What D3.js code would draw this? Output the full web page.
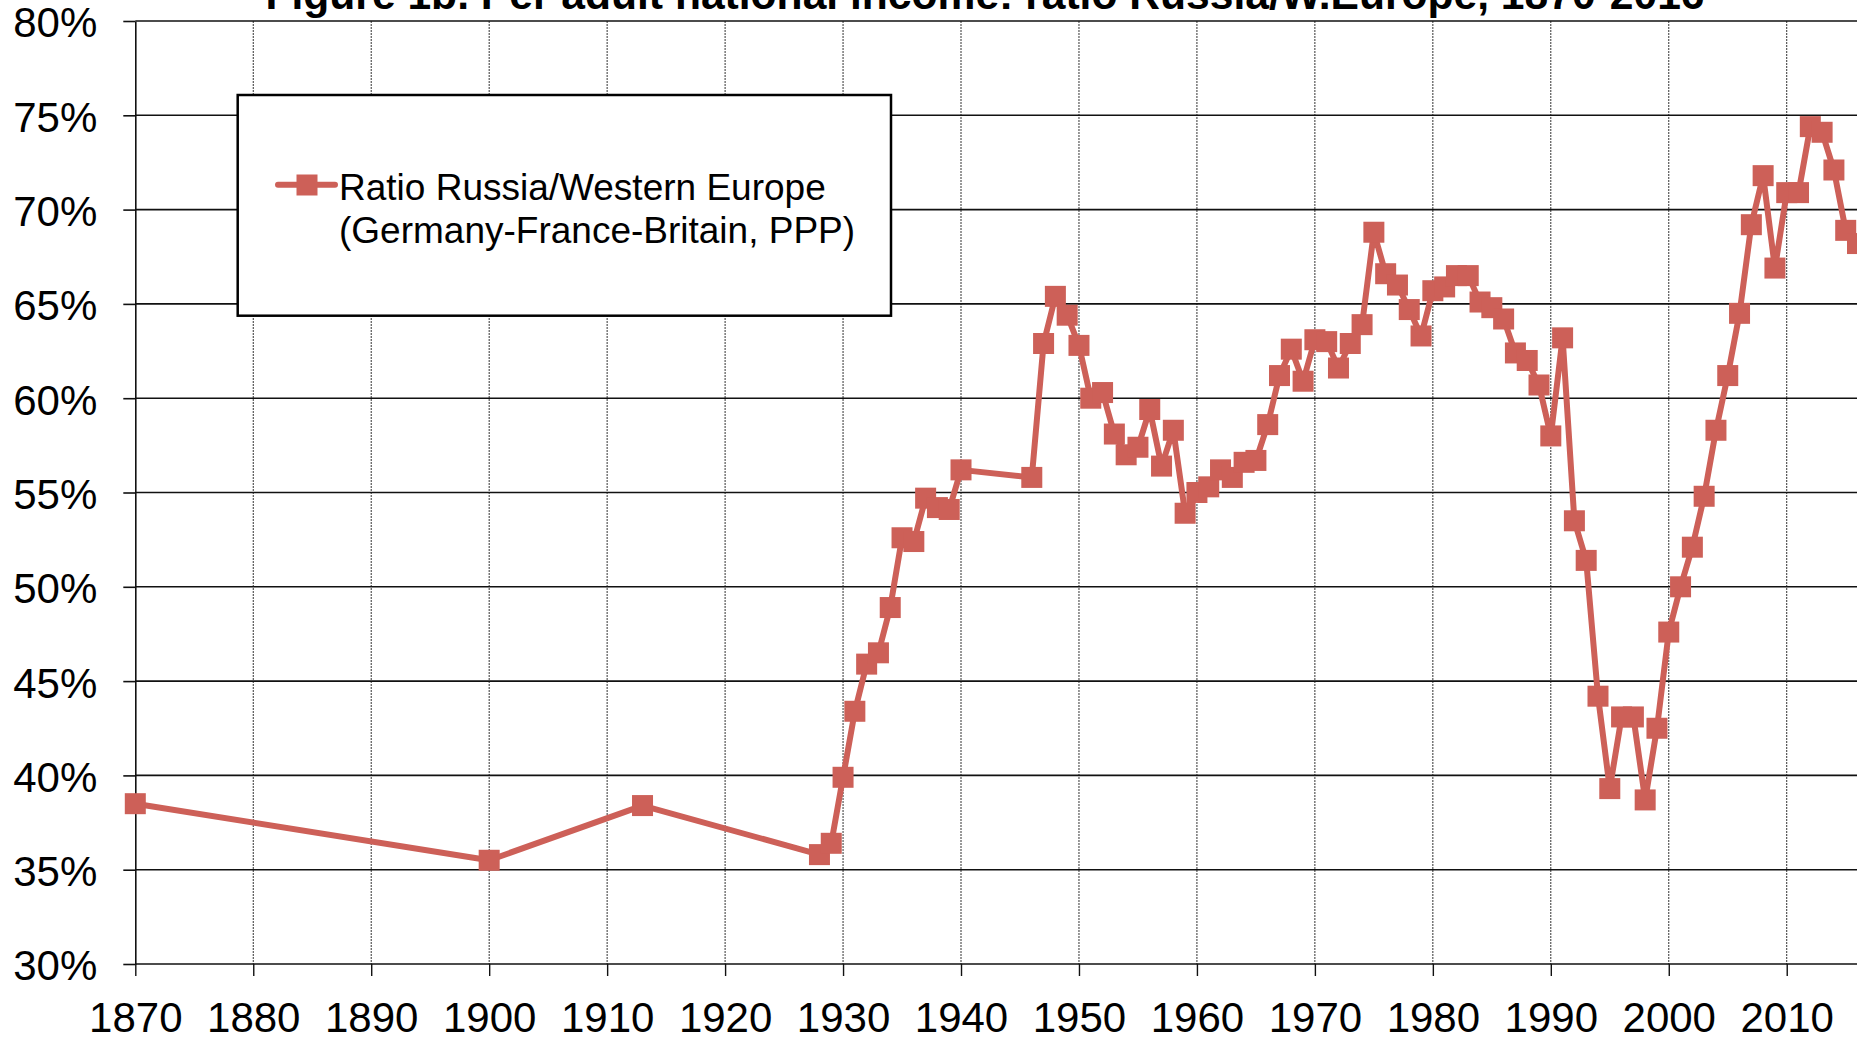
<!DOCTYPE html>
<html>
<head>
<meta charset="utf-8">
<script src="https://cdn.jsdelivr.net/npm/d3@7"></script>
<style>
  html, body { margin: 0; padding: 0; background: #fff; overflow: hidden; }
  svg { display: block; font-family: "Liberation Sans", Arial, sans-serif; }
</style>
</head>
<body>
<div id="chart"></div>
<script>
// data
const years = [1870, 1900, 1913, 1928, 1929, 1930, 1931, 1932, 1933, 1934, 1935, 1936, 1937, 1938, 1939, 1940,
  1946, 1947, 1948, 1949, 1950, 1951, 1952, 1953, 1954, 1955, 1956, 1957, 1958, 1959,
  1960, 1961, 1962, 1963, 1964, 1965, 1966, 1967, 1968, 1969,
  1970, 1971, 1972, 1973, 1974, 1975, 1976, 1977, 1978, 1979,
  1980, 1981, 1982, 1983, 1984, 1985, 1986, 1987, 1988, 1989,
  1990, 1991, 1992, 1993, 1994, 1995, 1996, 1997, 1998, 1999,
  2000, 2001, 2002, 2003, 2004, 2005, 2006, 2007, 2008, 2009,
  2010, 2011, 2012, 2013, 2014, 2015, 2016];
const ratio = [38.5, 35.5, 38.4, 35.8, 36.4, 39.9, 43.4, 45.9, 46.5, 48.9, 52.6, 52.4, 54.7, 54.2, 54.1, 56.2,
  55.8, 62.9, 65.4, 64.4, 62.8, 60.0, 60.3, 58.1, 57.0, 57.4, 59.4, 56.4, 58.3, 53.9,
  55.0, 55.3, 56.2, 55.8, 56.6, 56.7, 58.6, 61.2, 62.6, 60.9,
  63.1, 63.0, 61.6, 62.9, 63.9, 68.8, 66.6, 66.0, 64.7, 63.3,
  65.7, 65.9, 66.5, 66.5, 65.1, 64.8, 64.2, 62.4, 62.0, 60.7,
  58.0, 63.2, 53.5, 51.4, 44.2, 39.3, 43.1, 43.1, 38.7, 42.5,
  47.6, 50.0, 52.1, 54.8, 58.3, 61.2, 64.5, 69.2, 71.8, 66.9,
  70.9, 70.9, 74.4, 74.1, 72.1, 68.9, 68.2];
const yTicks = [30, 35, 40, 45, 50, 55, 60, 65, 70, 75, 80];
const xTicks = [1870, 1880, 1890, 1900, 1910, 1920, 1930, 1940, 1950, 1960, 1970, 1980, 1990, 2000, 2010];
const title = "Figure 1b. Per adult national income: ratio Russia/W.Europe, 1870-2016";
const legendLines = ["Ratio Russia/Western Europe", "(Germany-France-Britain, PPP)"];

const W = 1857, H = 1040;
const margin = {top: 21, left: 135.3};
const width = 1722.2, height = 943;
const red = "#cd6058";

const svg = d3.select("#chart").append("svg")
  .attr("width", W)
  .attr("height", H);

const g = svg.append("g")
  .attr("transform", `translate(${margin.left},${margin.top})`);

const x = d3.scaleLinear().domain([1870, 2016]).range([0, width]);
const y = d3.scaleLinear().domain([30, 80]).range([height, 0]);

// vertical dotted gridlines
g.selectAll(".vgrid")
  .data(xTicks.slice(1))
  .enter().append("line")
  .attr("class", "vgrid")
  .attr("x1", d => x(d)).attr("x2", d => x(d))
  .attr("y1", 0).attr("y2", height)
  .attr("stroke", "#333")
  .attr("stroke-width", 1)
  .attr("stroke-dasharray", "2,1");

// horizontal gridlines
g.selectAll(".hgrid")
  .data(yTicks)
  .enter().append("line")
  .attr("class", "hgrid")
  .attr("x1", 0).attr("x2", W)
  .attr("y1", d => y(d)).attr("y2", d => y(d))
  .attr("stroke", "#111")
  .attr("stroke-width", 1.6);

// axes
const yAxis = d3.axisLeft(y)
  .tickValues(yTicks)
  .tickFormat(d => d + "%")
  .tickSize(12)
  .tickSizeOuter(0)
  .tickPadding(26);

const yG = g.append("g").call(yAxis);
yG.select(".domain").attr("stroke", "#111").attr("stroke-width", 1.6);
yG.selectAll(".tick line").attr("stroke", "#111").attr("stroke-width", 1.6);
yG.selectAll("text")
  .attr("font-size", 42)
  .attr("fill", "#000")
  .attr("dy", "0.38em")
  .style("font-family", "'Liberation Sans', Arial, sans-serif");

const xAxis = d3.axisBottom(x)
  .tickValues(xTicks)
  .tickFormat(d3.format("d"))
  .tickSize(12)
  .tickSizeOuter(0)
  .tickPadding(26);

const xG = g.append("g")
  .attr("transform", `translate(0,${height})`)
  .call(xAxis);
xG.select(".domain").remove();
xG.selectAll(".tick line").attr("stroke", "#111").attr("stroke-width", 1.4);
xG.selectAll("text")
  .attr("font-size", 42)
  .attr("fill", "#000")
  .style("font-family", "'Liberation Sans', Arial, sans-serif");

// legend box
const legend = svg.append("g");
legend.append("rect")
  .attr("x", 237.7).attr("y", 95)
  .attr("width", 653.3).attr("height", 220.7)
  .attr("fill", "#fff")
  .attr("stroke", "#000")
  .attr("stroke-width", 2.5);
legend.append("line")
  .attr("x1", 278).attr("x2", 335)
  .attr("y1", 184.7).attr("y2", 184.7)
  .attr("stroke", red)
  .attr("stroke-width", 6)
  .attr("stroke-linecap", "round");
legend.append("rect")
  .attr("x", 296.5).attr("y", 174.5)
  .attr("width", 21).attr("height", 21)
  .attr("fill", red);
legend.selectAll(".legtext")
  .data(legendLines)
  .enter().append("text")
  .attr("class", "legtext")
  .attr("x", 339)
  .attr("y", (d, i) => 200 + i * 43)
  .attr("font-size", 37)
  .attr("fill", "#000")
  .text(d => d);

// series
const points = years.map((yr, i) => ({year: yr, value: ratio[i]}));

const line = d3.line()
  .x(d => x(d.year))
  .y(d => y(d.value));

g.append("path")
  .datum(points)
  .attr("fill", "none")
  .attr("stroke", red)
  .attr("stroke-width", 6)
  .attr("stroke-linejoin", "round")
  .attr("d", line);

g.selectAll(".pt")
  .data(points)
  .enter().append("rect")
  .attr("class", "pt")
  .attr("x", d => x(d.year) - 10.5)
  .attr("y", d => y(d.value) - 10.5)
  .attr("width", 21)
  .attr("height", 21)
  .attr("fill", red);

// title (cut off at top like the reference)
svg.append("text")
  .attr("x", 985)
  .attr("y", 9)
  .attr("text-anchor", "middle")
  .attr("font-size", 42.6)
  .attr("font-weight", "bold")
  .attr("fill", "#000")
  .text(title);
</script>
</body>
</html>
